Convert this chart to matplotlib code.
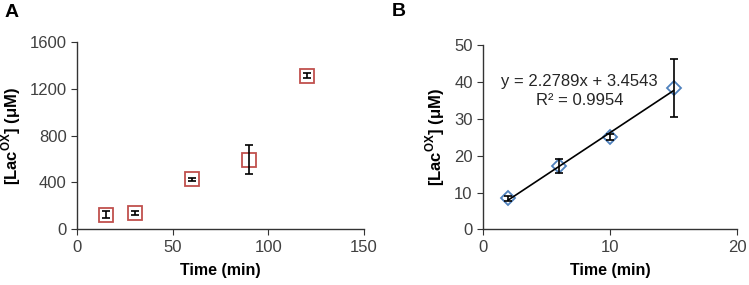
import matplotlib.pyplot as plt

plt.rcParams['font.family'] = ['Liberation Sans', 'DejaVu Sans']

# panel A data
time_a = [15, 30, 60, 90, 120]
lac_a = [125, 140, 425, 595, 1310]
err_a = [30, 15, 12, 120, 20]

# panel B data
time_b = [2, 6, 10, 15]
lac_b = [8.4, 17.2, 25.0, 38.3]
err_b = [0.6, 2.0, 0.8, 7.8]
slope, intercept = 2.2789, 3.4543

tick_color = '#404040'

fig = plt.figure(figsize=(7.49, 2.85), dpi=100)
ax1 = fig.add_axes([0.103, 0.196, 0.383, 0.657])
ax2 = fig.add_axes([0.645, 0.195, 0.339, 0.647])


def style(ax):
    for s in ['top', 'right']:
        ax.spines[s].set_visible(False)
    for s in ['left', 'bottom']:
        ax.spines[s].set_color('#333333')
        ax.spines[s].set_linewidth(1.0)
    ax.tick_params(direction='out', length=4, colors='#333333',
                   labelcolor=tick_color, labelsize=12)
    ax.set_xlabel('Time (min)', fontsize=11.5, fontweight='bold', labelpad=6)
    ax.set_ylabel('[Lac$^{\\mathregular{OX}}$] (μM)', fontsize=12,
                  fontweight='bold', labelpad=5)


# panel A
ax1.errorbar(time_a, lac_a, yerr=err_a, fmt='none', ecolor='black',
             elinewidth=1.2, capsize=3, capthick=1.2, zorder=3)
ax1.plot(time_a, lac_a, 's', ms=9.5, mfc='none', mec='#c0504d', mew=1.3,
         zorder=2)
ax1.set_xlim(0, 150)
ax1.set_ylim(0, 1600)
ax1.set_xticks([0, 50, 100, 150])
ax1.set_yticks([0, 400, 800, 1200, 1600])
style(ax1)

# panel B
ax2.errorbar(time_b, lac_b, yerr=err_b, fmt='none', ecolor='black',
             elinewidth=1.2, capsize=3, capthick=1.2, zorder=3)
ax2.plot(time_b, lac_b, 'D', ms=7.5, mfc='none', mec='#4f81bd', mew=1.3,
         zorder=2)
fit_x = [time_b[0], time_b[-1]]
fit_y = [slope * x + intercept for x in fit_x]
ax2.plot(fit_x, fit_y, color='black', lw=1.2, zorder=4)
ax2.text(7.6, 40, 'y = 2.2789x + 3.4543', ha='center', va='center',
         fontsize=12, color='#262626')
ax2.text(7.6, 35, 'R² = 0.9954', ha='center', va='center',
         fontsize=12, color='#262626')
ax2.set_xlim(0, 20)
ax2.set_ylim(0, 50)
ax2.set_xticks([0, 10, 20])
ax2.set_yticks([0, 10, 20, 30, 40, 50])
style(ax2)

fig.text(0.006, 0.985, 'A', fontsize=14, fontweight='bold', va='top')
fig.text(0.523, 0.99, 'B', fontsize=14, fontweight='bold', va='top')

fig.savefig('out.png', dpi=100)
